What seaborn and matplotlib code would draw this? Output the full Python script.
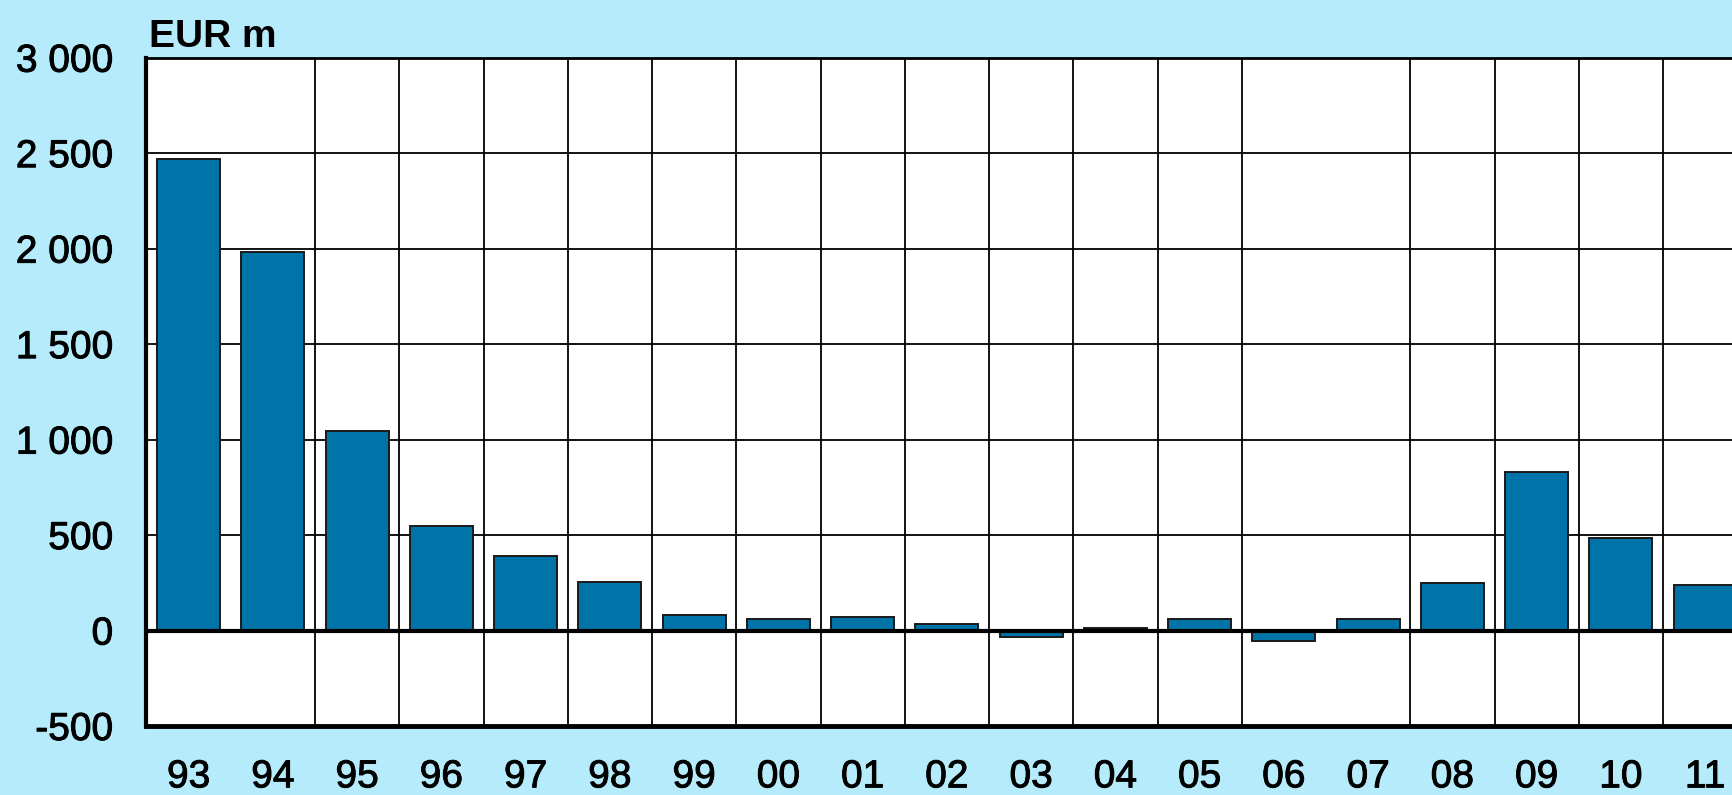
import numpy as np
import pandas as pd
import matplotlib
matplotlib.use("Agg")
import matplotlib.pyplot as plt
import matplotlib.patheffects as pe
import seaborn as sns

# ---- data ----
years = ["93", "94", "95", "96", "97", "98", "99", "00", "01", "02",
         "03", "04", "05", "06", "07", "08", "09", "10", "11"]
values = [2469, 1980, 1047, 550, 390, 252, 80, 60, 73, 33,
          -35, 14, 60, -54, 60, 247, 832, 485, 240]
ytick_values = [-500, 0, 500, 1000, 1500, 2000, 2500, 3000]
ytick_labels = ["-500", "0", "500", "1 000", "1 500", "2 000", "2 500", "3 000"]
unit_label = "EUR m"

# ---- style ----
sns.set_theme(style="white")
plt.rcParams["font.family"] = ["Liberation Sans", "DejaVu Sans"]

BG = "#b5ebfa"
BAR = "#0073a8"
W, H, DPI = 1733, 795, 100

fig = plt.figure(figsize=(W / DPI, H / DPI), dpi=DPI, facecolor=BG)
left_px, top_px, bottom_px = 146.5, 57.7, 726.0
cat_px = 84.25
ax = fig.add_axes([left_px / W, 1 - bottom_px / H, 1 - left_px / W,
                   (bottom_px - top_px) / H])
ax.set_facecolor("white")

df = pd.DataFrame({"year": years, "value": values})
sns.barplot(data=df, x="year", y="value", order=years, color=BAR,
            saturation=1, width=0.75, edgecolor="#1a1a1a", linewidth=1.4,
            ax=ax, zorder=3)

ax.set_xlim(-0.5, -0.5 + (W - left_px) / cat_px)
ax.set_ylim(ytick_values[0], ytick_values[-1])
ax.set_yticks(ytick_values)
ax.set_yticklabels(ytick_labels)

# horizontal grid
for v in ytick_values[1:-1]:
    ax.axhline(v, color="black", lw=3.0 if v == 0 else 1.3, zorder=4 if v == 0 else 1)
# vertical grid at category boundaries (two are absent in the original)
missing = {0, 13}
for i in range(len(years) - 1):
    if i not in missing:
        ax.axvline(i + 0.5, color="black", lw=1.3, zorder=1)

ax.set_xlabel("")
ax.set_ylabel("")
ax.tick_params(axis="both", length=0, labelsize=28, colors="black")
ax.tick_params(axis="y", pad=24)
ax.tick_params(axis="x", pad=24)

heavy = [pe.withStroke(linewidth=0.7, foreground="black")]
for lab in ax.get_xticklabels() + ax.get_yticklabels():
    lab.set_path_effects(heavy)

for s in ["left", "bottom", "top"]:
    ax.spines[s].set_visible(True)
    ax.spines[s].set_color("black")
ax.spines["left"].set_linewidth(3)
ax.spines["bottom"].set_linewidth(3.5)
ax.spines["top"].set_linewidth(2)
ax.spines["right"].set_visible(False)

fig.text(149 / W, 1 - 47 / H, unit_label, fontsize=28, fontweight="bold",
         ha="left", va="baseline", color="black")

fig.savefig("out.png", dpi=DPI, facecolor=BG)
